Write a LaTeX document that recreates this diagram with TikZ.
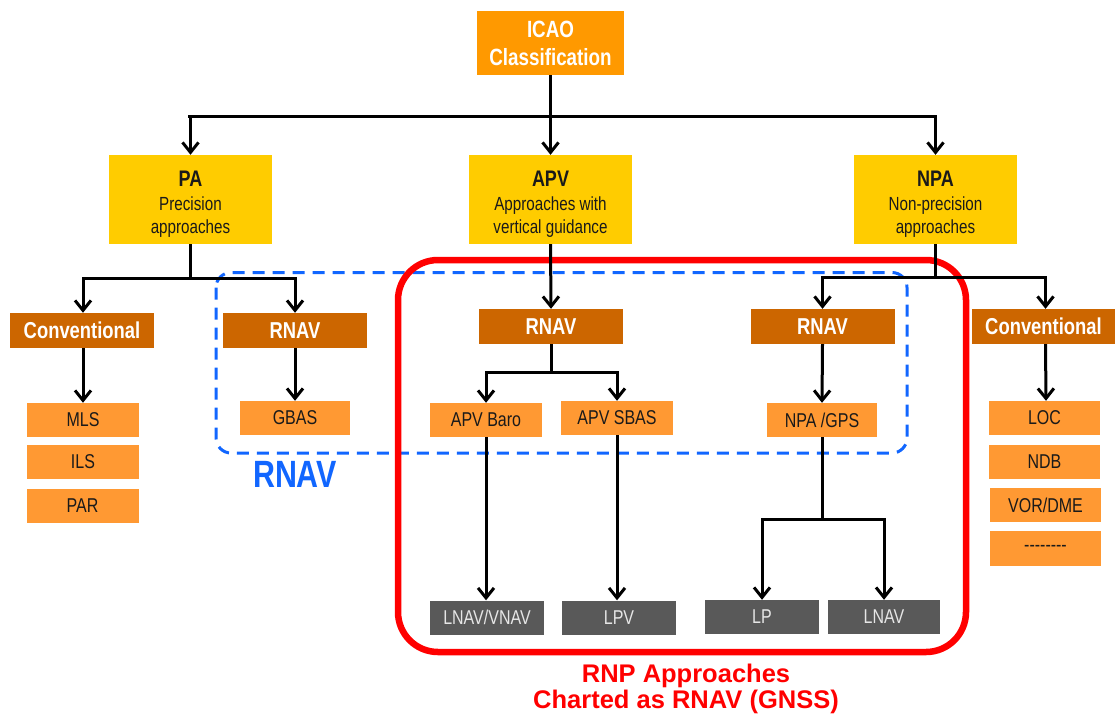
\documentclass[tikz,border=0pt]{standalone}
\usepackage{fontspec}
\setmainfont{Liberation Sans}[FakeStretch=0.8]
\newfontfamily\widesans{Liberation Sans}
\usetikzlibrary{arrows.meta}

\definecolor{icaoorange}{HTML}{FF9900}
\definecolor{catyellow}{HTML}{FFCC00}
\definecolor{navorange}{HTML}{CC6600}
\definecolor{aidorange}{HTML}{FF9933}
\definecolor{modegrey}{HTML}{595959}
\definecolor{modetext}{HTML}{E6E6E6}
\definecolor{darktext}{HTML}{1A1A1A}
\definecolor{rnpred}{HTML}{FF0000}
\definecolor{rnavblue}{HTML}{1166FF}

\tikzset{
  every node/.style={inner sep=0pt, align=center},
  icaobox/.style={fill=icaoorange, text=white, minimum width=147pt, minimum height=64pt,
    font=\bfseries\fontsize{23.5}{28}\selectfont},
  catbox/.style={fill=catyellow, text=darktext, minimum width=163pt, minimum height=89pt,
    font=\fontsize{19}{23}\selectfont},
  navbox/.style={fill=navorange, text=white, minimum width=144pt, minimum height=35pt,
    font=\bfseries\fontsize{23}{26}\selectfont},
  aidbox/.style={fill=aidorange, text=darktext, minimum width=111pt, minimum height=34pt,
    font=\fontsize{20}{23}\selectfont},
  modebox/.style={fill=modegrey, text=modetext, minimum width=114pt, minimum height=34pt,
    font=\fontsize{20}{23}\selectfont},
  link/.style={line width=3pt, draw=black},
  arrowlink/.style={link, -{Straight Barb[length=10pt,width=16pt,line width=3pt]}},
  rnpframe/.style={draw=rnpred, line width=6.5pt, rounded corners=40pt},
  rnavframe/.style={draw=rnavblue, line width=3pt, dash pattern=on 12pt off 8pt, rounded corners=15pt},
}
% bold heading line of a category box, with extra room above it
\newcommand{\cathead}[1]{{\bfseries\fontsize{22.5}{25}\selectfont\rule{0pt}{25pt}#1}}

\begin{document}
\begin{tikzpicture}[x=1pt, y=-1pt]
\useasboundingbox (0,0) rectangle (1116,716);

% RNAV region (dashed) and RNP region (solid)
\draw[rnavframe] (216,272.5) rectangle (907,453);
\draw[rnpframe] (398,260) rectangle (966,652);

% top of the tree
\node[icaobox] (icao) at (550.5,43) {ICAO\\Classification};

\node[catbox] (pa)  at (190.5,199.5) {\cathead{PA}\\[1pt]Precision\\approaches};
\node[catbox] (apv) at (550.5,199.5) {\cathead{APV}\\[1pt]Approaches with\\vertical guidance};
\node[catbox] (npa) at (935.5,199.5) {\cathead{NPA}\\[1pt]Non-precision\\approaches};

% navigation families
\node[navbox] (convl)   at (82,330.5)    {Conventional};
\node[navbox] (rnavpa)  at (295,330.5)   {RNAV};
\node[navbox] (rnavapv) at (551,326.5)   {RNAV};
\node[navbox] (rnavnpa) at (822.5,326.5) {RNAV};
\node[navbox, minimum width=143pt] (convr) at (1043.5,326.5) {Conventional};

% aids
\node[aidbox, minimum width=112pt] (mls) at (83,420)   {MLS};
\node[aidbox, minimum width=112pt] (ils) at (83,462)   {ILS};
\node[aidbox, minimum width=112pt] (par) at (82.5,505.5) {PAR};
\node[aidbox, minimum width=110pt] (gbas) at (295,418) {GBAS};
\node[aidbox, minimum width=112pt] (baro) at (486,420) {APV Baro};
\node[aidbox, minimum width=112pt] (sbas) at (617,418) {APV SBAS};
\node[aidbox, minimum width=110pt] (gps)  at (822,420) {NPA /GPS};
\node[aidbox] (loc)  at (1044.5,418)   {LOC};
\node[aidbox] (ndb)  at (1044.5,462)   {NDB};
\node[aidbox] (vor)  at (1045.5,505)   {VOR/DME};
\node[aidbox, minimum height=35pt] (more) at (1045.5,548.5) {{-}{-}{-}{-}{-}{-}{-}{-}};

% charted minima
\node[modebox] (lnavvnav) at (487,617.5) {LNAV/VNAV};
\node[modebox] (lpv)      at (619,617.5) {LPV};
\node[modebox] (lp)       at (762,617)   {LP};
\node[modebox, minimum width=112pt] (lnav) at (884,617) {LNAV};

% junction points
\coordinate (jicao) at (550.5,116);
\coordinate (jpa)   at (190.5,278);
\coordinate (japv)  at (551,372);
\coordinate (jnpa)  at (935.5,277);
\coordinate (jgps)  at (822,519);

% connectors
\draw[link] (icao.south) -- (jicao);
\draw[link] (188,116) -- (935.5,116);
\draw[arrowlink] (jicao) -| (pa.north);
\draw[arrowlink] (jicao) -- (apv.north);
\draw[arrowlink] (jicao) -| (npa.north);

\draw[link] (pa.south) -- (jpa);
\draw[arrowlink] (jpa) -| ([xshift=1pt]convl.north);
\draw[arrowlink] (jpa) -| (rnavpa.north);

\draw[arrowlink] (apv.south) -- (rnavapv.north);

\draw[link] (npa.south) -- (jnpa);
\draw[arrowlink] (jnpa) -| (rnavnpa.north);
\draw[arrowlink] (jnpa) -| ([xshift=2pt]convr.north);

\draw[arrowlink] ([xshift=1pt]convl.south) -- (mls.north);
\draw[arrowlink] (rnavpa.south) -- (gbas.north);
\draw[arrowlink] ([xshift=2pt]convr.south) -- ([xshift=1.5pt]loc.north);

\draw[link] (rnavapv.south) -- (japv);
\draw[arrowlink] (japv) -| (baro.north);
\draw[arrowlink] (japv) -| (sbas.north);
\draw[arrowlink] (rnavnpa.south) -- (gps.north);

\draw[arrowlink] (baro.south) -- (baro.south |- lnavvnav.north);
\draw[arrowlink] (sbas.south) -- (sbas.south |- lpv.north);

\draw[link] (gps.south) -- (jgps);
\draw[arrowlink] (jgps) -| (lp.north);
\draw[arrowlink] (jgps) -| (lnav.north);

% region labels
\node[text=rnavblue, font=\bfseries\fontsize{38}{40}\selectfont] (rnavlabel) at (295,474) {RNAV};
\node[text=rnpred, font=\widesans\bfseries\fontsize{25.5}{26}\selectfont] (rnplabel) at (686,689)
  {RNP Approaches\\Charted as RNAV (GNSS)};
\end{tikzpicture}
\end{document}
